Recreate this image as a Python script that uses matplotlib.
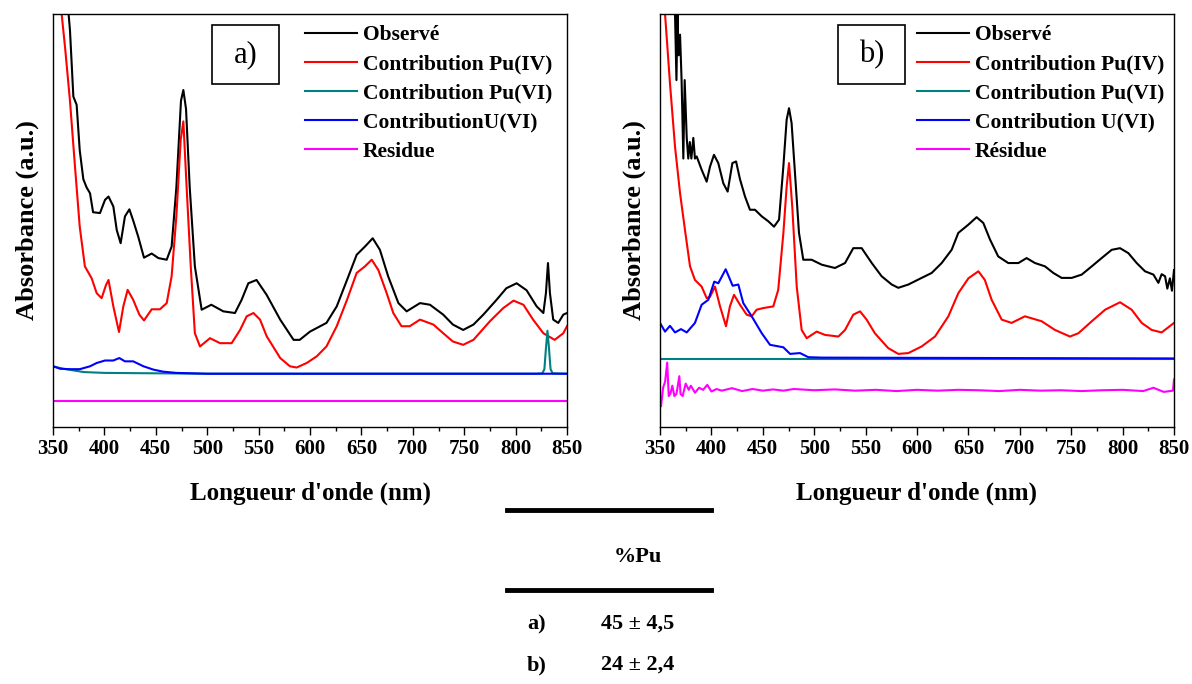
import matplotlib
matplotlib.use('Agg')
import matplotlib.pyplot as plt
from matplotlib.lines import Line2D
from matplotlib.patches import Rectangle

plt.rcParams['font.family'] = ['Liberation Serif', 'DejaVu Serif']

# ---- panel a) ----
a_obs_wl = [350, 360, 366.5, 369.8, 373, 376, 379.5, 382.7, 386, 389, 395.7, 400.6, 404, 408.7, 412,
            415.8, 420, 424.3, 428, 433, 438.5, 446, 452.5, 460.6, 465.4, 470, 474.5, 476.8, 479.4, 483,
            488, 494.6, 504, 515.7, 527, 533.5, 540, 548, 557.8, 571, 584, 590, 600, 616, 626, 636,
            645.4, 653.5, 661, 668, 676, 686, 694, 707, 716.7, 729.6, 739, 749, 759, 768.6, 781.5, 791,
            801, 810.7, 820.5, 827, 829.5, 831.5, 833.4, 836.6, 841.5, 846.4, 850]
a_obs = [1.45, 1.15, 0.961, 0.80, 0.78, 0.67, 0.60, 0.58, 0.566, 0.52, 0.518, 0.55, 0.558, 0.534, 0.477,
         0.445, 0.51, 0.527, 0.50, 0.46, 0.41, 0.42, 0.409, 0.405, 0.437, 0.58, 0.79, 0.816, 0.77, 0.58,
         0.389, 0.284, 0.296, 0.28, 0.276, 0.308, 0.348, 0.356, 0.32, 0.26, 0.211, 0.211, 0.231, 0.252, 0.292, 0.356,
         0.417, 0.437, 0.457, 0.429, 0.365, 0.30, 0.28, 0.30, 0.296, 0.272, 0.248, 0.235, 0.248, 0.272, 0.308, 0.336,
         0.348, 0.331, 0.292, 0.276, 0.324, 0.397, 0.324, 0.26, 0.252, 0.272, 0.276]

a_pu4_wl = [350, 358.4, 361.7, 366.5, 371.4, 376, 381, 387.6, 392.5, 397.3, 401.6, 404, 408.7, 414.2,
            418.4, 422.6, 428, 434, 438.5, 446, 454, 460.6, 465.4, 470, 474.2, 476.8, 480, 484, 488, 493,
            502.7, 512.5, 523.8, 532, 538.4, 545, 551.4, 557.8, 571, 580.5, 587, 596.8, 606.5, 616, 626,
            636, 645.4, 653.5, 660, 666.5, 674.6, 681, 689, 697, 707, 720, 729.6, 739, 749, 759, 775, 788,
            798, 807.6, 817, 827, 838, 846.4, 850]
a_pu4 = [1.35, 1.0, 0.92, 0.79, 0.63, 0.485, 0.389, 0.36, 0.324, 0.312, 0.344, 0.356, 0.292, 0.23,
         0.292, 0.332, 0.308, 0.272, 0.258, 0.285, 0.285, 0.30, 0.365, 0.51, 0.695, 0.74, 0.58, 0.389, 0.227, 0.195,
         0.215, 0.203, 0.203, 0.235, 0.268, 0.276, 0.26, 0.22, 0.167, 0.147, 0.144, 0.155, 0.171, 0.195, 0.244,
         0.308, 0.373, 0.389, 0.405, 0.38, 0.324, 0.276, 0.244, 0.244, 0.26, 0.248, 0.227, 0.207, 0.199, 0.211, 0.256, 0.288,
         0.306, 0.296, 0.26, 0.227, 0.211, 0.227, 0.244]

a_pu6_wl = [350, 360, 370, 380, 400, 450, 500, 820, 826, 828, 829.5, 831, 832.5, 834, 836, 850]
a_pu6 = [0.147, 0.141, 0.137, 0.133, 0.131, 0.130, 0.129, 0.129, 0.130, 0.14, 0.19, 0.233, 0.19, 0.14, 0.13, 0.129]

a_u6_wl = [350, 357, 366.5, 376, 386, 392.5, 400.6, 408.7, 414.5, 420, 428, 438, 447.6, 457, 470, 500, 850]
a_u6 = [0.147, 0.141, 0.140, 0.140, 0.147, 0.155, 0.161, 0.161, 0.167, 0.159, 0.159, 0.147, 0.139, 0.134, 0.131, 0.129, 0.129]

a_res_wl = [350, 850]
a_res = [0.064, 0.064]

# ---- panel b) ----
b_obs_wl = [350, 360, 364.6, 366, 367, 368, 369.5, 371, 372.7, 374, 376, 377.5, 379, 380.5, 382.4, 384, 385.7,
            390.5, 395.4, 398.6, 402.5, 406.7, 411.6, 415.8, 420.4, 424, 427.8, 432.7, 437.5, 442.4, 449,
            455.4, 460.9, 465.8, 470, 473.2, 475.5, 478, 481.3, 485.2, 489.4, 497.5, 507.3, 520.2, 530, 538,
            546.2, 556, 565.6, 575.4, 581.8, 591.6, 604.5, 614.3, 624, 633.7, 640.2, 650, 658, 664.5, 671,
            679, 688.8, 698.6, 706.6, 714.8, 724.5, 732.6, 740.7, 750.5, 760.2, 770, 779.6, 789.4, 797.5,
            805.6, 813.7, 821.8, 830, 834.8, 838, 841.3, 843.5, 846, 848, 850]
b_obs = [1.5, 1.2, 1.0, 0.84, 1.0, 0.90, 0.95, 0.84, 0.65, 0.84, 0.70, 0.65, 0.69, 0.65, 0.70, 0.65, 0.655,
         0.623, 0.594, 0.63, 0.659, 0.639, 0.59, 0.57, 0.639, 0.643, 0.6, 0.558, 0.526, 0.526, 0.51,
         0.498, 0.485, 0.502, 0.631, 0.744, 0.772, 0.736, 0.615, 0.47, 0.405, 0.405, 0.393, 0.385, 0.397, 0.433,
         0.433, 0.397, 0.365, 0.345, 0.337, 0.345, 0.361, 0.373, 0.397, 0.429, 0.47, 0.49, 0.508, 0.494, 0.454,
         0.413, 0.397, 0.397, 0.409, 0.397, 0.389, 0.373, 0.361, 0.361, 0.369, 0.389, 0.409, 0.429, 0.433,
         0.421, 0.397, 0.377, 0.369, 0.349, 0.37, 0.365, 0.335, 0.36, 0.33, 0.38]

b_pu4_wl = [350, 354.9, 359.7, 364.6, 369.5, 374.3, 379.2, 384, 390.5, 395.4, 398.6, 403.5, 408.4, 414.2,
            418, 422, 427.8, 434.3, 439.2, 444, 450.5, 460.2, 465, 470, 473.2, 475.5, 478.7, 483, 487.8,
            492.7, 502.4, 510.5, 523.5, 530, 538, 544.6, 551, 559, 572, 581.8, 591.6, 604.5, 617.5, 630.5,
            640.2, 650, 659.7, 666, 672.6, 682.4, 692, 705, 721.3, 734.2, 748.8, 757, 770, 783, 797.5,
            808.8, 818.6, 828.3, 838, 850]
b_pu4 = [1.15, 1.0, 0.832, 0.679, 0.566, 0.477, 0.389, 0.356, 0.34, 0.312, 0.315, 0.340, 0.292, 0.244,
         0.292, 0.32, 0.296, 0.272, 0.268, 0.284, 0.288, 0.292, 0.332, 0.469, 0.582, 0.639, 0.532, 0.34, 0.235,
         0.215, 0.231, 0.223, 0.219, 0.235, 0.272, 0.28, 0.26, 0.227, 0.191, 0.177, 0.179, 0.195, 0.219, 0.268,
         0.324, 0.36, 0.377, 0.356, 0.308, 0.26, 0.252, 0.268, 0.256, 0.235, 0.219, 0.227, 0.256, 0.284, 0.302,
         0.284, 0.252, 0.235, 0.229, 0.252]

b_pu6_wl = [350, 850]
b_pu6 = [0.165, 0.165]

b_u6_wl = [350, 354.9, 359.7, 364.6, 370.4, 376, 384, 390.5, 397, 402.8, 406.7, 413.9, 420.7, 426.2, 431,
           439.2, 449, 457, 470, 476.5, 486.2, 494.3, 507.3, 850]
b_u6 = [0.252, 0.231, 0.245, 0.229, 0.237, 0.229, 0.252, 0.296, 0.308, 0.352, 0.348, 0.382, 0.342, 0.345, 0.30,
        0.268, 0.227, 0.199, 0.193, 0.177, 0.179, 0.169, 0.168, 0.166]

b_res_wl = [350, 351, 353, 355, 357, 358.5, 360, 362, 364, 366, 368.8, 370, 372, 375, 378, 380, 384, 388,
            392, 396, 400, 405, 410, 420, 430, 440, 450, 460, 470, 480, 500, 520, 540, 560, 580, 600,
            620, 640, 660, 680, 700, 720, 740, 760, 780, 800, 820, 830, 840, 849, 850]
b_res = [0.05, 0.05, 0.095, 0.11, 0.156, 0.075, 0.08, 0.10, 0.075, 0.08, 0.123, 0.08, 0.075, 0.105, 0.09,
         0.10, 0.083, 0.095, 0.09, 0.102, 0.086, 0.092, 0.088, 0.094, 0.087, 0.092, 0.088, 0.091, 0.088,
         0.092, 0.089, 0.091, 0.088, 0.09, 0.087, 0.09, 0.088, 0.09, 0.089, 0.087, 0.09, 0.088, 0.089,
         0.087, 0.089, 0.09, 0.087, 0.095, 0.085, 0.088, 0.115]

labels_a = ['Observé', 'Contribution Pu(IV)', 'Contribution Pu(VI)', 'ContributionU(VI)', 'Residue']
labels_b = ['Observé', 'Contribution Pu(IV)', 'Contribution Pu(VI)', 'Contribution U(VI)', 'Résidue']
colors = ['black', '#ff0000', '#008080', '#0000ff', '#ff00ff']

table_rows = ['a)', 'b)']
table_pu = ['45 ± 4,5', '24 ± 2,4']

panels = [
    ('a)', 53, 212, 0.490, labels_a,
     [(a_obs_wl, a_obs), (a_pu4_wl, a_pu4), (a_pu6_wl, a_pu6), (a_u6_wl, a_u6), (a_res_wl, a_res)]),
    ('b)', 660, 838, 0.500, labels_b,
     [(b_obs_wl, b_obs), (b_pu4_wl, b_pu4), (b_pu6_wl, b_pu6), (b_u6_wl, b_u6), (b_res_wl, b_res)]),
]

W, H = 1192, 684
fig = plt.figure(figsize=(W / 100, H / 100), dpi=100)

for tag, left, box_left, leg_x, labels, series in panels:
    ax = fig.add_axes([left / W, (H - 427) / H, 514 / W, 413 / H])
    for (x, y), lab, c in zip(series, labels, colors):
        ax.plot(x, y, color=c, lw=1.5, label=lab)
    ax.set_xlim(350, 850)
    ax.set_ylim(0, 1)
    ax.set_xticks(range(350, 851, 50))
    ax.set_xticks(range(375, 850, 50), minor=True)
    ax.set_yticks([])
    ax.tick_params(axis='x', which='major', direction='out', length=6, width=1, labelsize=15, pad=3)
    ax.tick_params(axis='x', which='minor', direction='out', length=3, width=1)
    for t in ax.get_xticklabels():
        t.set_fontweight('bold')
    for s in ax.spines.values():
        s.set_linewidth(1.0)
    ax.set_xlabel("Longueur d'onde (nm)", fontsize=18, fontweight='bold', labelpad=16)
    ax.set_ylabel('Absorbance (a.u.)', fontsize=19, fontweight='bold', labelpad=10)
    ax.legend(loc='upper left', bbox_to_anchor=(leg_x, 0.973), frameon=False,
              prop={'weight': 'bold', 'size': 15.5}, handlelength=2.4, handletextpad=0.3,
              labelspacing=0.42, borderaxespad=0, borderpad=0)
    bx = box_left - left
    ax.add_patch(Rectangle((bx / 514, 1 - 70 / 413), 67 / 514, 59 / 413,
                           transform=ax.transAxes, fill=False, lw=1.2, ec='black'))
    ax.text((bx + 33.5) / 514, 1 - 40.5 / 413, tag, transform=ax.transAxes,
            ha='center', va='center', fontsize=22)

# table below the panels
fig.add_artist(Line2D([507 / W, 711 / W], [1 - 510 / H, 1 - 510 / H], color='black', lw=3.5))
fig.add_artist(Line2D([507 / W, 711 / W], [1 - 590 / H, 1 - 590 / H], color='black', lw=3.5))
fig.text(638 / W, 1 - 557 / H, '%Pu', ha='center', va='center', fontsize=16, fontweight='bold')
for i, (r, v) in enumerate(zip(table_rows, table_pu)):
    yy = 1 - (624 + 41 * i) / H
    fig.text(537 / W, yy, r, ha='center', va='center', fontsize=16, fontweight='bold')
    fig.text(638 / W, yy, v, ha='center', va='center', fontsize=16, fontweight='bold')

fig.savefig('out.png', dpi=100)
